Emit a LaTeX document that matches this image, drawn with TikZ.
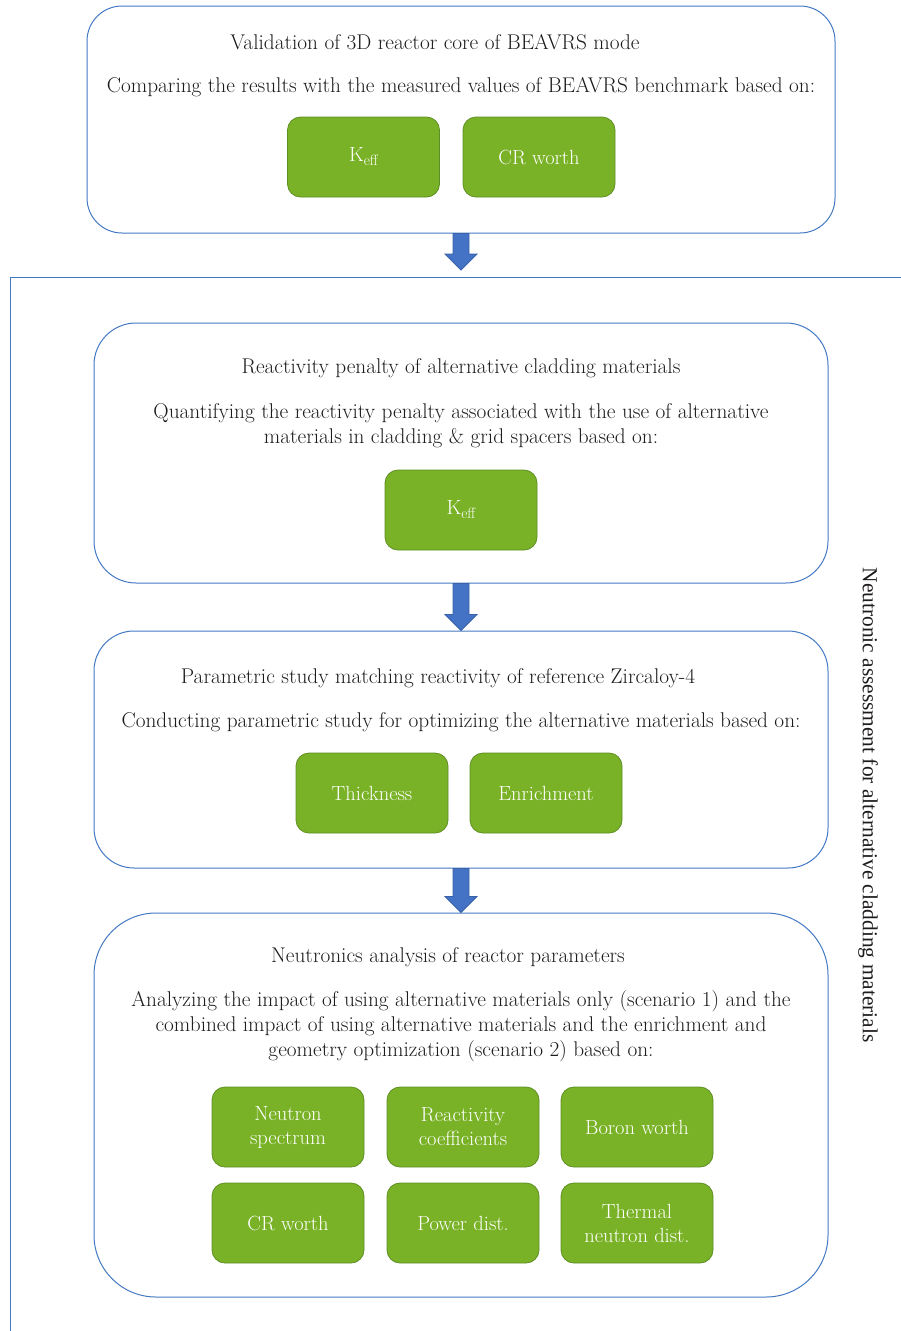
\documentclass[tikz,border=0pt]{standalone}
\usepackage{fontspec}
\newfontfamily\sidefont{Liberation Serif}
\usetikzlibrary{calc}

\definecolor{lineblue}{HTML}{4479C4}
\definecolor{arrowblue}{HTML}{4472C4}
\definecolor{arrowedge}{HTML}{3A62A8}
\definecolor{leafgreen}{HTML}{79B226}
\definecolor{leafedge}{HTML}{5E8E24}
\definecolor{inkgray}{HTML}{1E1B1C}

\tikzset{
  stagebox/.style={draw=lineblue, line width=1pt, rounded corners=#1},
  stagebox/.default=36pt,
  itembox/.style={draw=leafedge, fill=leafgreen, line width=0.8pt, rounded corners=13pt,
    minimum width=152pt, minimum height=80pt, text=white, align=center,
    font=\fontsize{20.5}{24}\selectfont},
  headtext/.style={text=inkgray, font=\fontsize{21.3}{25}\selectfont},
  bodytext/.style={text=inkgray, align=center, font=\fontsize{21.3}{25}\selectfont},
  arrowblk/.style={fill=arrowblue, draw=arrowedge, line width=0.8pt},
}

% K with a lowered eff
\newcommand{\keffsub}{K\raisebox{-0.45ex}{\fontsize{15}{15}\selectfont eff}}

% block arrow from #1 down to #2
\newcommand{\stagearrow}[2]{%
  \filldraw[arrowblk] let \p1=(#1), \p2=(#2) in
    (\x1-8pt,\y1) -- (\x1-8pt,\y2+16pt) -- (\x1-16pt,\y2+16pt) -- (\x1,\y2)
    -- (\x1+16pt,\y2+16pt) -- (\x1+8pt,\y2+16pt) -- (\x1+8pt,\y1) -- cycle;}

\begin{document}
\begin{tikzpicture}[x=1pt, y=-1pt]
    \useasboundingbox (0,0) rectangle (901,1331);

    % validation stage
    \node[stagebox=35pt, minimum width=748pt, minimum height=227pt] (box1) at (461,119.5) {};
    \node[headtext] (title1) at (435,42) {Validation of 3D reactor core of BEAVRS mode};
    \node[bodytext] (text1) at (461,87) {Comparing the results with the measured values of BEAVRS benchmark based on:};
    \node[itembox] (keff1) at (363.5,157) {\keffsub};
    \node[itembox] (crw1) at (539,157) {CR worth};

    % frame of the neutronic assessment
    \coordinate (frtop) at (10,277);
    \draw[lineblue, line width=1pt] (901,277) -- (frtop) -- (10,1331);
    \node[rotate=-90, text=inkgray, font=\sidefont\fontsize{21.4}{25}\selectfont] (side) at (868,805)
        {Neutronic assessment for alternative cladding materials};

    % reactivity penalty stage
    \node[stagebox=42pt, minimum width=734pt, minimum height=260pt] (box2) at (461,453) {};
    \node[headtext] (title2) at (461,368) {Reactivity penalty of alternative cladding materials};
    \node[bodytext] (text2) at (461,426) {Quantifying the reactivity penalty associated with the use of alternative\\
        materials in cladding \& grid spacers based on:};
    \node[itembox] (keff2) at (461,510) {\keffsub};

    % parametric stage
    \node[stagebox=40pt, minimum width=734pt, minimum height=237pt] (box3) at (461,749.5) {};
    \node[headtext] (title3) at (438,678) {Parametric study matching reactivity of reference Zircaloy-4};
    \node[bodytext] (text3) at (461,722) {Conducting parametric study for optimizing the alternative materials based on:};
    \node[itembox] (thick) at (372,793) {Thickness};
    \node[itembox] (enrich) at (546,793) {Enrichment};

    % neutronics analysis stage
    \node[stagebox=62pt, minimum width=734pt, minimum height=384pt] (box4) at (461,1105) {};
    \node[headtext] (title4) at (448,957) {Neutronics analysis of reactor parameters};
    \node[bodytext] (text4) at (461,1026) {Analyzing the impact of using alternative materials only (scenario 1) and the\\
        combined impact of using alternative materials and the enrichment and\\
        geometry optimization (scenario 2) based on:};
    \node[itembox] (spec) at (288,1127) {Neutron\\spectrum};
    \node[itembox] (coef) at (463,1127) {Reactivity\\coefficients};
    \node[itembox] (boron) at (637,1127) {Boron worth};
    \node[itembox] (crw4) at (288,1223) {CR worth};
    \node[itembox] (power) at (463,1223) {Power dist.};
    \node[itembox] (therm) at (637,1223) {Thermal\\neutron dist.};

    % arrows between stages
    \coordinate (tip1) at (461,270);
    \stagearrow{box1.south}{tip1}
    \stagearrow{box2.south}{box3.north}
    \stagearrow{box3.south}{box4.north}
\end{tikzpicture}
\end{document}
